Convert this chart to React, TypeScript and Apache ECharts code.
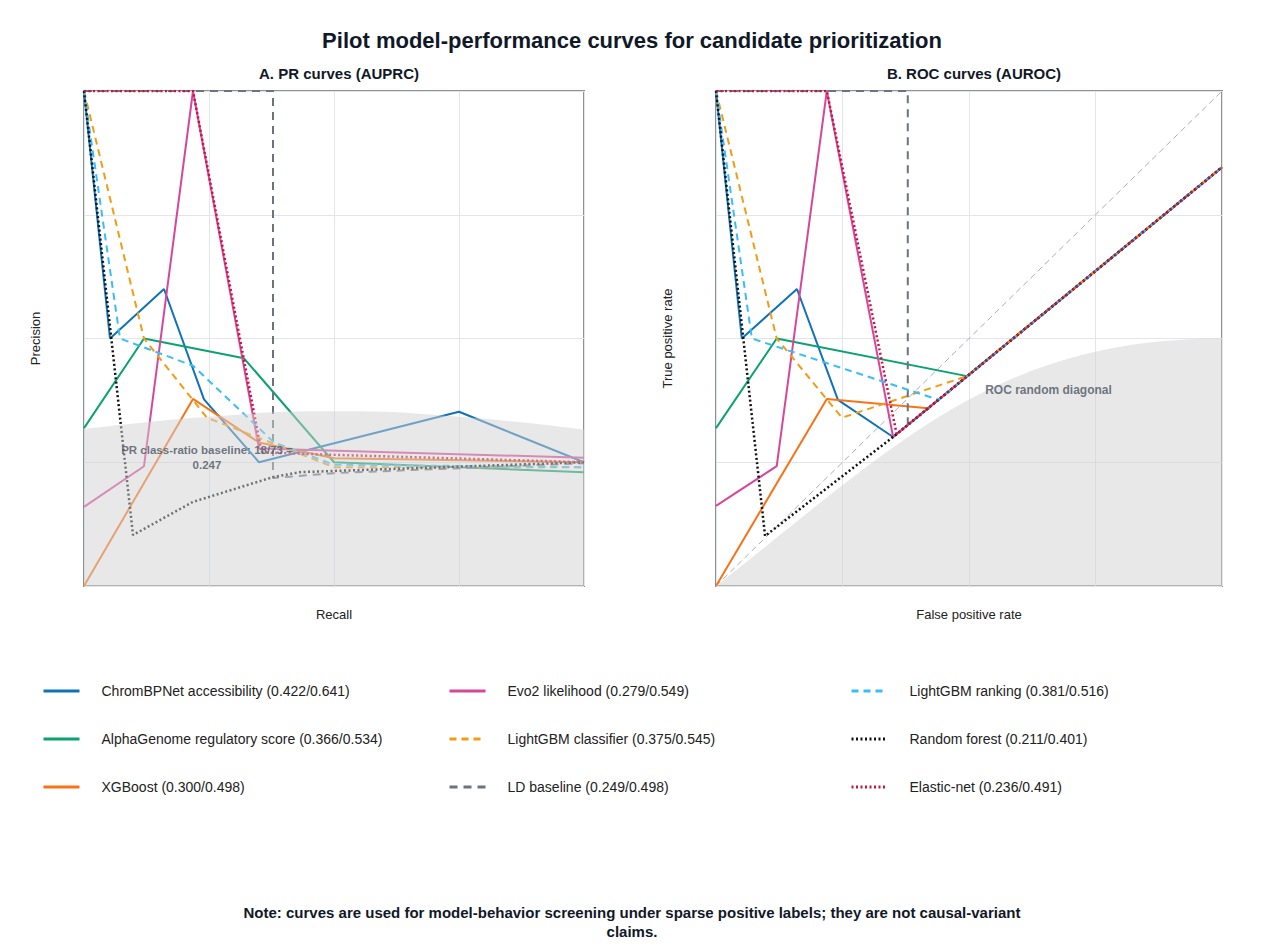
import React, { useEffect, useRef } from "react";
import * as echarts from "echarts";

// ---------- names ----------
const NAMES = [
  "ChromBPNet accessibility (0.422/0.641)",
  "AlphaGenome regulatory score (0.366/0.534)",
  "XGBoost (0.300/0.498)",
  "Evo2 likelihood (0.279/0.549)",
  "LightGBM classifier (0.375/0.545)",
  "LD baseline (0.249/0.498)",
  "LightGBM ranking (0.381/0.516)",
  "Random forest (0.211/0.401)",
  "Elastic-net (0.236/0.491)",
];

// ---------- PR curves: [recall, precision] ----------
const prChromBPNet = [[0, 1], [0.052, 0.5], [0.16, 0.6], [0.24, 0.377], [0.35, 0.25], [0.75, 0.352], [1, 0.25]];
const prAlphaGenome = [[0, 0.319], [0.12, 0.5], [0.32, 0.46], [0.5, 0.25], [1, 0.23]];
const prXGBoost = [[0, 0], [0.218, 0.378], [0.35, 0.29], [0.5, 0.258], [1, 0.25]];
const prEvo2 = [[0, 0.16], [0.12, 0.242], [0.218, 1], [0.35, 0.278], [1, 0.259]];
const prLgbmClassifier = [[0, 1], [0.12, 0.5], [0.246, 0.34], [0.5, 0.24], [1, 0.24]];
const prLdBaseline = [[0, 1], [0.378, 1], [0.378, 0.218], [0.5, 0.228], [1, 0.248]];
const prLgbmRanking = [[0, 1], [0.072, 0.5], [0.218, 0.445], [0.38, 0.29], [0.5, 0.245], [1, 0.24]];
const prRandomForest = [[0, 1], [0.098, 0.103], [0.218, 0.17], [0.378, 0.22], [0.432, 0.23], [1, 0.25]];
const prElasticNet = [[0, 1], [0.218, 1], [0.355, 0.27], [0.5, 0.265], [1, 0.25]];

// ---------- ROC curves: [FPR, TPR] ----------
const rocChromBPNet = [[0, 1], [0.051, 0.5], [0.16, 0.6], [0.241, 0.376], [0.35, 0.301], [1, 0.846]];
const rocAlphaGenome = [[0, 0.319], [0.12, 0.5], [0.496, 0.424], [1, 0.846]];
const rocXGBoost = [[0, 0], [0.219, 0.378], [0.419, 0.359], [1, 0.846]];
const rocEvo2 = [[0, 0.162], [0.12, 0.242], [0.219, 1], [0.35, 0.301], [1, 0.846]];
const rocLgbmClassifier = [[0, 1], [0.12, 0.5], [0.249, 0.34], [0.496, 0.424], [1, 0.846]];
const rocLdBaseline = [[0, 1], [0.379, 1], [0.379, 0.325], [1, 0.846]];
const rocLgbmRanking = [[0, 1], [0.071, 0.5], [0.44, 0.376], [1, 0.846]];
const rocRandomForest = [[0, 1], [0.097, 0.101], [0.35, 0.301], [1, 0.846]];
const rocElasticNet = [[0, 1], [0.219, 1], [0.357, 0.307], [1, 0.846]];
const rocDiagonal = [[0, 0], [1, 1]];

// ---------- annotations ----------
const prBaselineLabel = [[0.246, 0.26]];
const rocDiagonalLabel = [[0.532, 0.396]];
// shaded background bands (upper edge)
const prShadeEdge = [[0, 0.317], [0.25, 0.342], [0.5, 0.353], [0.75, 0.342], [1, 0.316]];
// cubic Bezier control points of the ROC shaded band's upper edge
const rocShadeBezier = [[0, 0], [0.35, 0.28], [0.55, 0.5], [1, 0.5]];

const PR_DATA = [prChromBPNet, prAlphaGenome, prXGBoost, prEvo2, prLgbmClassifier, prLdBaseline, prLgbmRanking, prRandomForest, prElasticNet];
const ROC_DATA = [rocChromBPNet, rocAlphaGenome, rocXGBoost, rocEvo2, rocLgbmClassifier, rocLdBaseline, rocLgbmRanking, rocRandomForest, rocElasticNet];

const STYLES: any[] = [
  { color: "#0f72b8", type: "solid", width: 2 },
  { color: "#0aa271", type: "solid", width: 2 },
  { color: "#f97316", type: "solid", width: 2 },
  { color: "#d6479b", type: "solid", width: 2 },
  { color: "#f39c12", type: [7, 5], width: 2 },
  { color: "#6b7280", type: [8, 6], width: 2 },
  { color: "#38bdf8", type: [7, 5], width: 2 },
  { color: "#111111", type: [2, 2.5], width: 2.5 },
  { color: "#c8143c", type: [2, 2.5], width: 2.5 },
];

const FONT = "Liberation Sans, Arial, Helvetica, sans-serif";
const SHADE = "rgba(210,210,210,0.5)";

function prShadeSeries() {
  return {
    type: "line",
    xAxisIndex: 0,
    yAxisIndex: 0,
    data: prShadeEdge,
    smooth: true,
    symbol: "none",
    showSymbol: false,
    silent: true,
    z: 5,
    lineStyle: { width: 0, opacity: 0 },
    areaStyle: { color: SHADE, opacity: 1 },
  };
}

function rocShadeSeries() {
  return {
    type: "custom",
    xAxisIndex: 1,
    yAxisIndex: 1,
    clip: true,
    silent: true,
    z: 5,
    data: [rocShadeBezier[0]],
    encode: { x: 0, y: 1 },
    renderItem: (params: any, api: any) => {
      const [p0, p1, p2, p3] = rocShadeBezier;
      const pts: number[][] = [];
      const N = 60;
      for (let i = 0; i <= N; i++) {
        const t = i / N;
        const a = (1 - t) * (1 - t) * (1 - t);
        const b = 3 * (1 - t) * (1 - t) * t;
        const c = 3 * (1 - t) * t * t;
        const d = t * t * t;
        const x = a * p0[0] + b * p1[0] + c * p2[0] + d * p3[0];
        const y = a * p0[1] + b * p1[1] + c * p2[1] + d * p3[1];
        pts.push(api.coord([x, y]));
      }
      pts.push(api.coord([p3[0], 0]));
      return {
        type: "polygon",
        shape: { points: pts },
        style: { fill: SHADE },
      };
    },
  };
}

function axisPair(idx: number, xName: string, yName: string) {
  const common = {
    type: "value",
    min: 0,
    max: 1,
    interval: 0.25,
    gridIndex: idx,
    axisLabel: { show: false },
    axisTick: { show: false },
    axisLine: { show: false },
    splitLine: { show: true, lineStyle: { color: "#e3e5ea", width: 1 } },
    nameLocation: "middle",
    nameTextStyle: { fontFamily: FONT, fontSize: 13, color: "#222" },
  };
  return {
    x: { ...common, name: xName, nameGap: 22 },
    y: { ...common, name: yName, nameGap: 42 },
  };
}

export default function App() {
  const ref = useRef<HTMLDivElement>(null);
  useEffect(() => {
    const chart = echarts.init(ref.current!, null, { renderer: "svg" });
    const a0 = axisPair(0, "Recall", "Precision");
    const a1 = axisPair(1, "False positive rate", "True positive rate");

    const series: any[] = [];
    NAMES.forEach((name, i) => {
      const s = STYLES[i];
      [PR_DATA[i], ROC_DATA[i]].forEach((data, g) => {
        series.push({
          type: "line",
          name,
          xAxisIndex: g,
          yAxisIndex: g,
          data,
          symbol: "none",
          showSymbol: false,
          z: 2,
          lineStyle: { color: s.color, type: s.type, width: s.width },
          itemStyle: { color: s.color },
        });
      });
    });
    series.push({
      type: "line",
      name: "ROC random diagonal",
      xAxisIndex: 1,
      yAxisIndex: 1,
      data: rocDiagonal,
      symbol: "none",
      z: 1,
      lineStyle: { color: "#a9adb5", type: [6, 4], width: 1 },
    });
    series.push(prShadeSeries());
    series.push(rocShadeSeries());
    series.push({
      type: "scatter",
      xAxisIndex: 0,
      yAxisIndex: 0,
      data: prBaselineLabel,
      symbolSize: 0,
      z: 10,
      silent: true,
      label: {
        show: true,
        position: "inside",
        formatter: "PR class-ratio baseline: 18/73 =\n0.247",
        fontFamily: FONT,
        fontSize: 11.5,
        fontWeight: "bold",
        color: "#4b5563",
        align: "center",
        lineHeight: 15,
      },
    });
    series.push({
      type: "scatter",
      xAxisIndex: 1,
      yAxisIndex: 1,
      data: rocDiagonalLabel,
      symbolSize: 0,
      z: 10,
      silent: true,
      label: {
        show: true,
        position: "right",
        distance: 0,
        formatter: "ROC random diagonal",
        fontFamily: FONT,
        fontSize: 12,
        fontWeight: "bold",
        color: "#4b5563",
      },
    });

    const legendBase = {
      orient: "vertical",
      top: 679,
      itemWidth: 36,
      itemHeight: 14,
      itemGap: 34,
      lineStyle: { width: 3 },
      itemStyle: { opacity: 0 },
      textStyle: { fontFamily: FONT, fontSize: 14, color: "#222", padding: [0, 0, 0, 17] },
      selectedMode: false,
    };

    chart.setOption({
      animation: false,
      backgroundColor: "#ffffff",
      title: [
        {
          text: "Pilot model-performance curves for candidate prioritization",
          left: "center",
          top: 24,
          textStyle: { fontFamily: FONT, fontSize: 22, fontWeight: "bold", color: "#111827" },
        },
        {
          text: "A. PR curves (AUPRC)",
          left: 334,
          textAlign: "center",
          top: 61,
          textStyle: { fontFamily: FONT, fontSize: 15, fontWeight: "bold", color: "#111827" },
        },
        {
          text: "B. ROC curves (AUROC)",
          left: 969,
          textAlign: "center",
          top: 61,
          textStyle: { fontFamily: FONT, fontSize: 15, fontWeight: "bold", color: "#111827" },
        },
      ],
      legend: [
        { ...legendBase, left: 37, data: NAMES.slice(0, 3) },
        { ...legendBase, left: 443, data: NAMES.slice(3, 6) },
        { ...legendBase, left: 845, data: NAMES.slice(6, 9) },
      ],
      grid: [
        { left: 84, top: 91, width: 500, height: 495, show: true, borderColor: "#8d9095", borderWidth: 2, backgroundColor: "transparent" },
        { left: 716, top: 91, width: 506, height: 495, show: true, borderColor: "#8d9095", borderWidth: 2, backgroundColor: "transparent" },
      ],
      xAxis: [a0.x, a1.x],
      yAxis: [a0.y, a1.y],
      graphic: [
        {
          type: "text",
          left: "center",
          top: 903,
          style: {
            text: "Note: curves are used for model-behavior screening under sparse positive labels; they are not causal-variant\nclaims.",
            fontFamily: FONT,
            fontSize: 15,
            fontWeight: "bold",
            fill: "#111827",
            textAlign: "center",
            lineHeight: 19,
          },
        },
      ],
      series,
    });
    return () => chart.dispose();
  }, []);
  return (
    <div
      ref={ref}
      style={{ position: "absolute", left: 0, top: 0, width: 1264, height: 948, background: "#fff" }}
    />
  );
}
